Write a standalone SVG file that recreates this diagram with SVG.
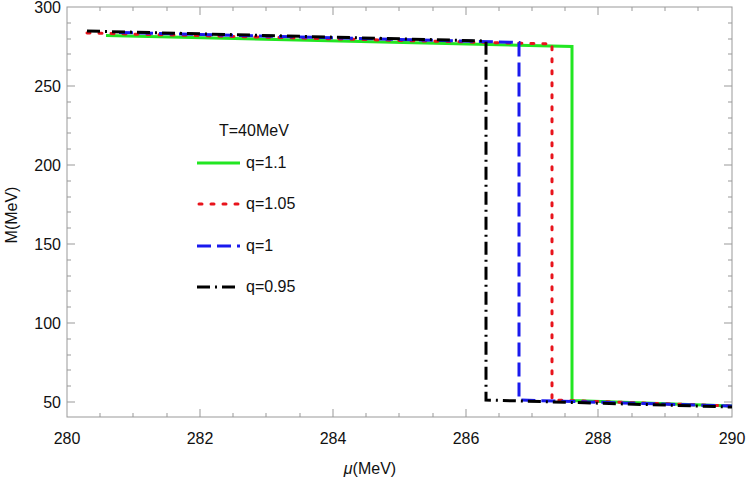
<svg xmlns="http://www.w3.org/2000/svg" width="747" height="486" viewBox="0 0 747 486">
<style>
text{font-family:"Liberation Sans",Arial,sans-serif;font-size:16px;fill:#111}
.t{stroke:#999;stroke-width:1}
.c{fill:none;stroke-width:3}
.g{stroke:#22e622}.r{stroke:#e8141c;stroke-dasharray:3 9;stroke-linecap:round}
.b{stroke:#1a1aee;stroke-dasharray:14 6}.k{stroke:#000;stroke-dasharray:13 5 2 5}
</style>
<rect width="747" height="486" fill="#fff"/>
<g id="frame">
<rect x="67" y="7" width="665" height="410" fill="none" stroke="#999"/>
<path class="t" d="M100,417v-4M133,417v-4M167,417v-4M200,417v-8M233,417v-4M266,417v-4M300,417v-4M333,417v-8M366,417v-4M399,417v-4M433,417v-4M466,417v-8M499,417v-4M532,417v-4M565,417v-4M598,417v-8M632,417v-4M665,417v-4M698,417v-4
M100,7v4M133,7v4M167,7v4M200,7v8M233,7v4M266,7v4M300,7v4M333,7v8M366,7v4M399,7v4M433,7v4M466,7v8M499,7v4M532,7v4M565,7v4M598,7v8M632,7v4M665,7v4M698,7v4
M67,402h8M67,386h4M67,370h4M67,355h4M67,339h4M67,323h8M67,307h4M67,291h4M67,276h4M67,260h4M67,244h8M67,228h4M67,212h4M67,197h4M67,181h4M67,165h8M67,149h4M67,133h4M67,118h4M67,102h4M67,86h8M67,70h4M67,54h4M67,39h4M67,23h4
M732,402h-8M732,386h-4M732,370h-4M732,355h-4M732,339h-4M732,323h-8M732,307h-4M732,291h-4M732,276h-4M732,260h-4M732,244h-8M732,228h-4M732,212h-4M732,197h-4M732,181h-4M732,165h-8M732,149h-4M732,133h-4M732,118h-4M732,102h-4M732,86h-8M732,70h-4M732,54h-4M732,39h-4M732,23h-4"/>
<g text-anchor="middle">
<text x="67" y="444">280</text><text x="200" y="444">282</text><text x="333" y="444">284</text><text x="466" y="444">286</text><text x="598" y="444">288</text><text x="732" y="444">290</text>
</g>
<g text-anchor="end">
<text x="61" y="408">50</text><text x="61" y="329">100</text><text x="61" y="250">150</text><text x="61" y="171">200</text><text x="61" y="92">250</text><text x="61" y="13">300</text>
</g>
<text x="370" y="474" text-anchor="middle"><tspan font-style="italic">μ</tspan>(MeV)</text>
<text transform="translate(17,215) rotate(-90)" text-anchor="middle">M(MeV)</text>
</g>
<g id="curves">
<path class="c g" d="M106,35.5L572,46.5V400.5L732,406"/>
<path class="c r" d="M87,33L552,44V400L732,406"/>
<path class="c b" d="M119,32.5L519,42.5V400L732,406"/>
<path class="c k" d="M87,31L486,41V400L732,407"/>
</g>
<g id="legend">
<text x="219" y="136">T=40MeV</text>
<line class="c g" x1="197" y1="163" x2="240" y2="163"/><text x="246" y="168">q=1.1</text>
<line class="c r" x1="199" y1="204" x2="240" y2="204"/><text x="246" y="209">q=1.05</text>
<line class="c b" x1="197" y1="246" x2="240" y2="246"/><text x="246" y="251">q=1</text>
<line class="c k" x1="197" y1="287" x2="240" y2="287"/><text x="246" y="292">q=0.95</text>
</g>
</svg>
